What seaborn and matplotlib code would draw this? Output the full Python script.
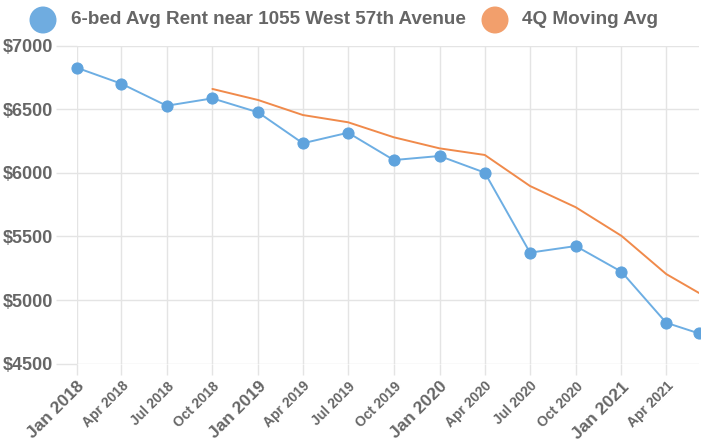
import matplotlib
matplotlib.use('Agg')
import matplotlib.pyplot as plt
import seaborn as sns
import pandas as pd
from matplotlib.patches import Ellipse

# ---- data ----
dates = ['2018-01-01', '2018-04-01', '2018-07-01', '2018-10-01', '2019-01-01',
         '2019-04-01', '2019-07-01', '2019-10-01', '2020-01-01', '2020-04-01',
         '2020-07-01', '2020-10-01', '2021-01-01', '2021-04-01', '2021-06-06']
rent = [6827, 6701, 6528, 6586, 6476, 6233, 6316, 6101, 6133, 6002,
        5373, 5425, 5223, 4822, 4738]
ma_dates = ['2018-10-01', '2019-01-01', '2019-04-01', '2019-07-01', '2019-10-01',
            '2020-01-01', '2020-04-01', '2020-07-01', '2020-10-01', '2021-01-01',
            '2021-04-01', '2021-06-06']
ma = [6660, 6573, 6455, 6398, 6280, 6193, 6141, 5897, 5730, 5505, 5205, 5056]
tick_dates = ['2018-01-01', '2018-04-01', '2018-07-01', '2018-10-01', '2019-01-01',
              '2019-04-01', '2019-07-01', '2019-10-01', '2020-01-01', '2020-04-01',
              '2020-07-01', '2020-10-01', '2021-01-01', '2021-04-01']
tick_labels = ['Jan 2018', 'Apr 2018', 'Jul 2018', 'Oct 2018', 'Jan 2019',
               'Apr 2019', 'Jul 2019', 'Oct 2019', 'Jan 2020', 'Apr 2020',
               'Jul 2020', 'Oct 2020', 'Jan 2021', 'Apr 2021']
y_ticks = [4500, 5000, 5500, 6000, 6500, 7000]
legend_labels = ['6-bed Avg Rent near 1055 West 57th Avenue', '4Q Moving Avg']

BLUE = '#5fa3dd'
BLUE_LINE = '#6daee3'
ORANGE = '#f08a4b'
ORANGE_LEG = '#f1955c'
GRID = '#e4e4e4'
TXT = '#666666'

sns.set_theme(style='white')
plt.rcParams['font.family'] = ['Liberation Sans', 'DejaVu Sans']

W, H = 701, 448
fig = plt.figure(figsize=(W / 100, H / 100), dpi=100)
left, right, top, bottom = 76.7, 699.0, 45.7, 363.7
ax = fig.add_axes([left / W, (H - bottom) / H, (right - left) / W, (bottom - top) / H])

df = pd.DataFrame({'date': pd.to_datetime(dates), 'rent': rent})
dfm = pd.DataFrame({'date': pd.to_datetime(ma_dates), 'ma': ma})

sns.lineplot(data=dfm, x='date', y='ma', ax=ax, color=ORANGE, lw=1.4, zorder=3)
sns.lineplot(data=df, x='date', y='rent', ax=ax, color=BLUE_LINE, lw=1.4,
             marker='o', markersize=8, markerfacecolor=BLUE, markeredgecolor=BLUE,
             clip_on=False, zorder=4)

ax.set_xlim(df['date'].iloc[0], df['date'].iloc[-1])
ax.set_ylim(4500, 7000)
ax.set_xlabel('')
ax.set_ylabel('')

ax.set_yticks(y_ticks)
ax.set_yticklabels([f'${v}' for v in y_ticks], fontsize=13, fontweight='bold', color=TXT)

ax.set_xticks(pd.to_datetime(tick_dates))
ax.set_xticklabels(tick_labels, rotation=45, ha='right', rotation_mode='anchor')
for lab in ax.get_xticklabels():
    big = lab.get_text().startswith('Jan')
    lab.set_fontsize(12.5 if big else 10)
    lab.set_fontweight('bold')
    lab.set_color(TXT)

ax.grid(True, color=GRID, lw=1)
for s in ax.spines.values():
    s.set_visible(False)
ax.tick_params(axis='y', length=15, width=1, color=GRID, pad=2, left=True)
ax.tick_params(axis='x', length=8, width=1, color=GRID, pad=3, bottom=True)

# ---- legend (Chart.js-style circles) ----
leg_y = 1 - 20 / H
for cx, tx, col, lab in [(43, 71, BLUE, legend_labels[0]), (495, 522, ORANGE_LEG, legend_labels[1])]:
    fig.add_artist(Ellipse((cx / W, leg_y), 27 / W, 27 / H, transform=fig.transFigure,
                           facecolor=col, edgecolor='none', alpha=0.9))
    fig.text(tx / W, leg_y, lab, fontsize=13.6, fontweight='bold', color=TXT, va='center', ha='left')

fig.savefig('out.png', dpi=100)
